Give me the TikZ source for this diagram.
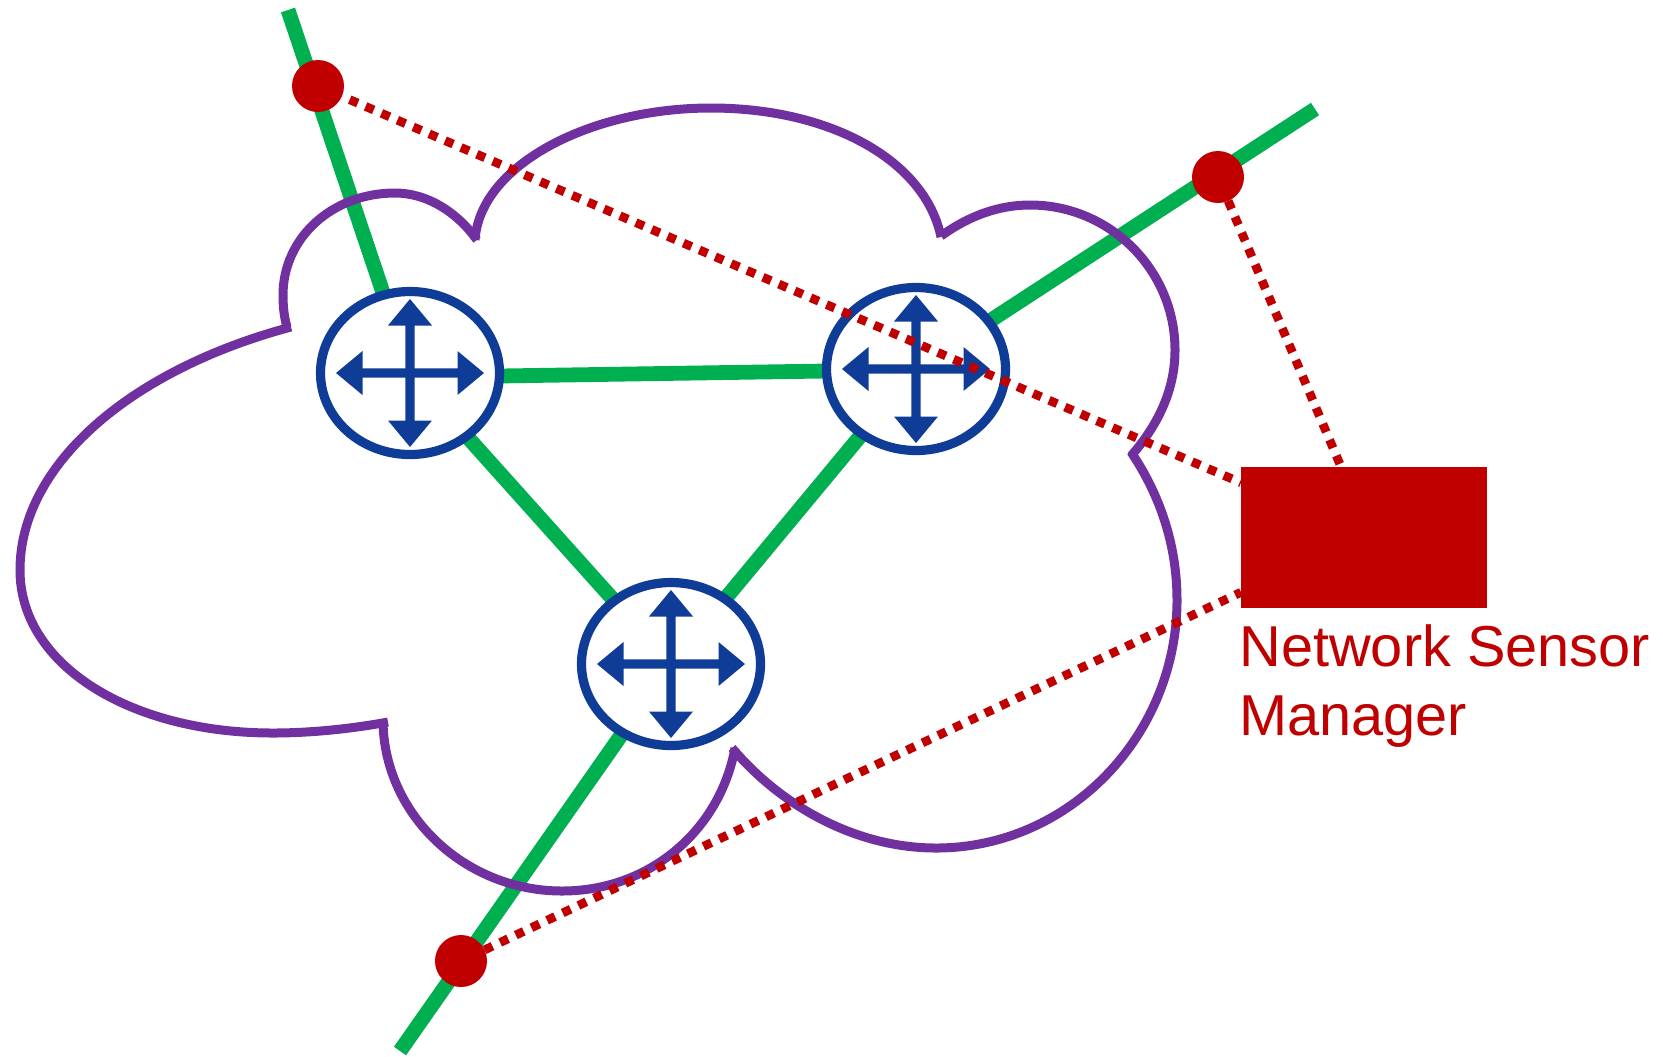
\documentclass[tikz,border=0pt]{standalone}
\usepackage{fontspec}
\setmainfont{Liberation Sans}
\usetikzlibrary{shapes.geometric}
\pgfdeclarelayer{under}
\pgfsetlayers{under,main}
\definecolor{linkgreen}{HTML}{00B050}
\definecolor{cloudpurple}{HTML}{7030A0}
\definecolor{routerblue}{HTML}{0E3C96}
\definecolor{sensorred}{HTML}{C00000}
\tikzset{
  x=0.5pt,y=-0.5pt,
  routernode/.style={ellipse,draw=routerblue,fill=white,line width=4.6pt,inner sep=0pt,outer sep=0pt,minimum width=89.5pt,minimum height=81.5pt},
  sensornode/.style={circle,fill=sensorred,inner sep=0pt,outer sep=0pt,minimum size=26pt},
  managernode/.style={rectangle,fill=sensorred,inner sep=0pt,outer sep=0pt,minimum width=123pt,minimum height=70.5pt},
  labelnode/.style={anchor=north west,align=left,inner sep=0pt,outer sep=0pt,text=sensorred,font=\fontsize{28.85}{34.35}\selectfont},
  linkline/.style={draw=linkgreen,line width=7.4pt},
  cloudline/.style={draw=cloudpurple,line width=4.5pt,line cap=butt,line join=miter},
  probeline/.style={draw=sensorred,line width=4.4pt,dash pattern=on 4.4pt off 4.25pt},
  crossarrows/.pic={
    \fill[routerblue] (0,-74) -- (22,-47.5) -- (4.6,-47.5) -- (4.6,-4.6) -- (47.5,-4.6) -- (47.5,-22) -- (74,0)
      -- (47.5,22) -- (47.5,4.6) -- (4.6,4.6) -- (4.6,47.5) -- (22,47.5) -- (0,74)
      -- (-22,47.5) -- (-4.6,47.5) -- (-4.6,4.6) -- (-47.5,4.6) -- (-47.5,22) -- (-74,0)
      -- (-47.5,-22) -- (-47.5,-4.6) -- (-4.6,-4.6) -- (-4.6,-47.5) -- (-22,-47.5) -- cycle;
  }
}
\begin{document}
\begin{tikzpicture}
\useasboundingbox (0,0) rectangle (1663,1056);
% routers, sensors, manager
\node[routernode] (R1) at (410,373) {};
\node[routernode] (R2) at (916,369) {};
\node[routernode] (R3) at (671,664) {};
\node[sensornode] (S1) at (318,86) {};
\node[sensornode] (S2) at (1218,177) {};
\node[sensornode] (S3) at (461,961) {};
\node[managernode] (M) at (1364,537.5) {};
\node[labelnode] (L) at (1239.5,625) {Network Sensor\\Manager};
% free ends of the green links
\coordinate (G1) at (288,10);
\coordinate (G2) at (1315,109);
\coordinate (G3) at (400,1051);
\begin{pgfonlayer}{under}
  \draw[linkline] (G1) -- (R1);
  \draw[linkline] (G2) -- (R2);
  \draw[linkline] (G3) -- (R3);
  \draw[linkline] ([yshift=-1.5pt]R1.east) -- ([yshift=-1pt]R2.west);
  \draw[linkline] (R1) -- (R3);
  \draw[linkline] (R2) -- (R3);
\end{pgfonlayer}
% cloud
\draw[cloudline] (287,327) .. controls (284,317) and (283,306) .. (283,295)
  .. controls (283,238) and (332,193) .. (395,193)
  .. controls (427,193) and (457,212) .. (477,240);
\draw[cloudline] (475,240) .. controls (480,165) and (590,108) .. (711,108)
  .. controls (830,108) and (925,160) .. (941,237);
\draw[cloudline] (941,236) .. controls (970,215) and (1000,205) .. (1030,205)
  .. controls (1110,205) and (1175,270) .. (1175,350)
  .. controls (1175,390) and (1158,425) .. (1131,456);
\draw[cloudline] (1131,452) .. controls (1160,495) and (1177,545) .. (1177,600)
  .. controls (1177,735) and (1070,848) .. (936,848)
  .. controls (860,848) and (785,810) .. (732,748);
\draw[cloudline] (735,748) .. controls (720,830) and (650,891) .. (562,891)
  .. controls (465,891) and (384,815) .. (383,721);
\draw[cloudline] (388,722) .. controls (350,729) and (310,733) .. (273,733)
  .. controls (130,733) and (20,665) .. (20,570)
  .. controls (20,465) and (130,370) .. (291,327);
% router arrows
\pic at (R1) {crossarrows};
\pic at (R2) {crossarrows};
\pic at (R3) {crossarrows};
% probe lines
\draw[probeline,dash phase=4.4pt] (S1) -- (M.156.9);
\draw[probeline] (S2) -- (M.108.8);
\draw[probeline] (S3) -- (M.204.7);
\end{tikzpicture}
\end{document}
